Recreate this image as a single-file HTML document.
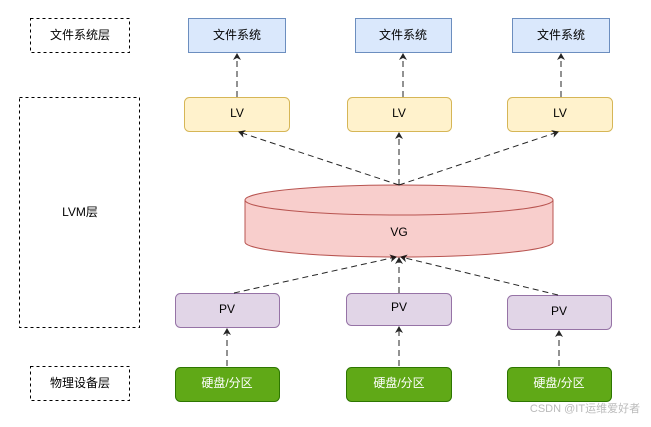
<!DOCTYPE html>
<html><head><meta charset="utf-8"><style>
body{margin:0;background:#fff;width:651px;height:422px;overflow:hidden}
svg text{font-family:"Liberation Sans","Noto Sans CJK SC",sans-serif;font-size:12px;text-anchor:middle;dominant-baseline:middle}
</style></head><body>
<svg width="651" height="422" viewBox="0 0 651 422">
<defs><marker id="a" markerWidth="8" markerHeight="8" refX="6" refY="4" orient="auto" markerUnits="userSpaceOnUse"><path d="M0,0 L7,4 L0,8 L2,4z" fill="#000"/></marker></defs>
<g fill="none" stroke="#000" stroke-dasharray="3,3">
<rect x="30.5" y="18.5" width="99" height="34"/>
<rect x="19.5" y="97.5" width="120" height="230"/>
<rect x="30.5" y="366.5" width="99" height="34"/>
</g>
<text x="80" y="36">文件系统层</text>
<text x="80" y="213">LVM层</text>
<text x="80" y="384">物理设备层</text>
<g fill="#dae8fc" stroke="#6c8ebf">
<rect x="188.5" y="18.5" width="97" height="34"/>
<rect x="355.5" y="18.5" width="96" height="34"/>
<rect x="512.5" y="18.5" width="97" height="34"/>
</g>
<text x="237" y="36">文件系统</text><text x="403" y="36">文件系统</text><text x="561" y="36">文件系统</text>
<g fill="#fff2cc" stroke="#d6b656">
<rect x="184.5" y="97.5" width="105" height="34" rx="5"/>
<rect x="347.5" y="97.5" width="104" height="34" rx="5"/>
<rect x="507.5" y="97.5" width="105" height="34" rx="5"/>
</g>
<text x="237" y="114">LV</text><text x="399" y="114">LV</text><text x="560" y="114">LV</text>
<path d="M245,200 L245,242 A154,15 0 0 0 553,242 L553,200 A154,15 0 0 0 245,200 Z" fill="#f8cecc" stroke="#b85450"/>
<path d="M245,200 A154,15 0 0 0 553,200" fill="none" stroke="#b85450"/>
<text x="399" y="233">VG</text>
<g fill="#e1d5e7" stroke="#9673a6">
<rect x="175.5" y="293.5" width="104" height="34" rx="5"/>
<rect x="346.5" y="293.5" width="105" height="32" rx="5"/>
<rect x="507.5" y="295.5" width="104" height="34" rx="5"/>
</g>
<text x="227" y="310">PV</text><text x="399" y="308">PV</text><text x="559" y="312">PV</text>
<g fill="#60a917" stroke="#2d7600">
<rect x="175.5" y="367.5" width="104" height="34" rx="5"/>
<rect x="346.5" y="367.5" width="105" height="34" rx="5"/>
<rect x="507.5" y="367.5" width="104" height="34" rx="5"/>
</g>
<g fill="#fff"><text x="227" y="384">硬盘/分区</text><text x="399" y="384">硬盘/分区</text><text x="559" y="384">硬盘/分区</text></g>
<g stroke="#000" stroke-dasharray="6,4" marker-end="url(#a)" opacity="0.85">
<line x1="237" y1="97" x2="237" y2="54"/>
<line x1="403" y1="97" x2="403" y2="54"/>
<line x1="561" y1="97" x2="561" y2="54"/>
<line x1="399" y1="185" x2="239" y2="132"/>
<line x1="399" y1="185" x2="399" y2="133"/>
<line x1="399" y1="185" x2="558" y2="132"/>
<line x1="234" y1="293" x2="396" y2="257"/>
<line x1="399" y1="293" x2="399" y2="258"/>
<line x1="558" y1="295" x2="401" y2="257"/>
<line x1="227" y1="366" x2="227" y2="329"/>
<line x1="399" y1="366" x2="399" y2="327"/>
<line x1="559" y1="366" x2="559" y2="331"/>
</g>
<text x="585" y="409" style="font-size:11px;fill:#bbb">CSDN @IT运维爱好者</text>
</svg>
</body></html>
